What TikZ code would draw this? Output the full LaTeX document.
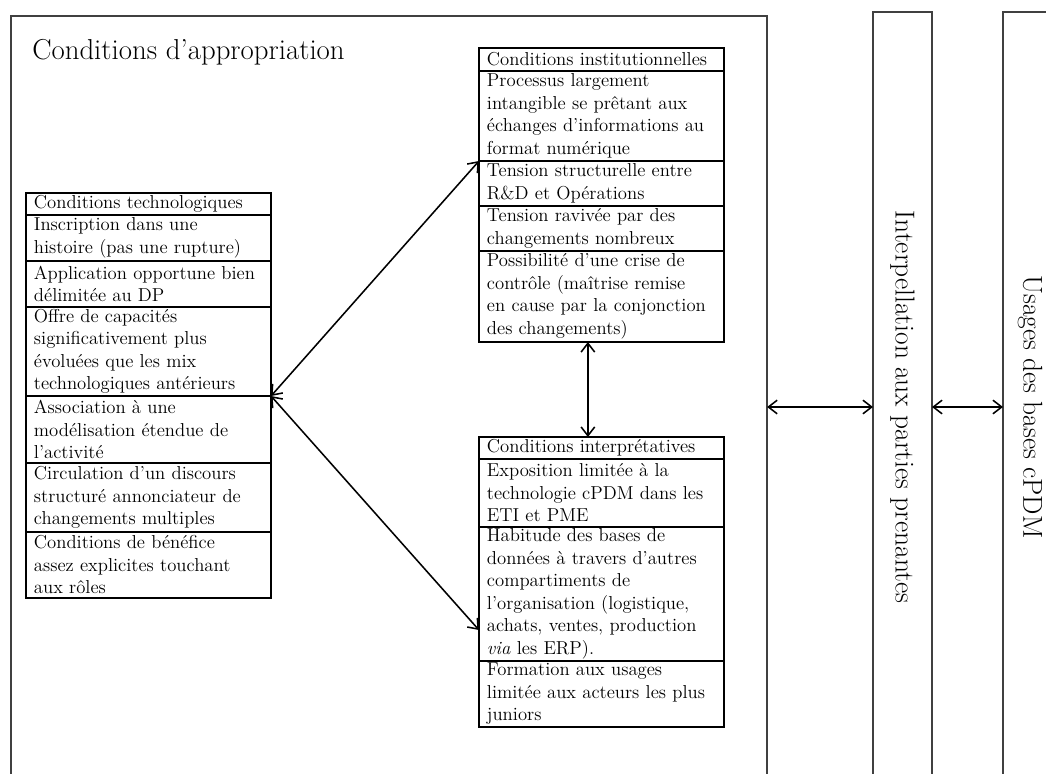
\documentclass[tikz,border=0pt]{standalone}
\usepackage{fontspec}
\usetikzlibrary{arrows.meta}

\begin{document}
\begin{tikzpicture}[x=0.025cm, y=-0.025cm,
	cell/.style={draw, line width=0.8pt, text width=5.725cm, inner xsep=0.2cm, inner ysep=0pt, outer sep=0pt, align=left, font=\fontsize{13.3}{16}\selectfont},
	frame/.style={draw=black!75, line width=0.9pt, outer sep=0pt},
	tall/.style={frame, rotate=-90, minimum width=19.75cm, font=\fontsize{19.5}{23}\selectfont},
	link/.style={<->, line width=1.1pt},
	>={Straight Barb[length=2.2mm,width=3.4mm]}]
				\useasboundingbox (0,0) rectangle (1046,774);
				\node[frame, minimum width=18.9cm, minimum height=19.55cm] (appr) at (389,407) {};
				\node[tall, minimum height=1.475cm] (interp) at (902.5,407) {Interpellation aux parties prenantes};
				\node[tall, minimum height=1.35cm] (usage) at (1030,407) {Usages des bases cPDM};
				\node[anchor=base west, inner sep=0pt, font=\fontsize{20.5}{24}\selectfont] (title) at (32,60) {Conditions d’appropriation};

				\node[cell, minimum height=0.55cm] (t0) at (148.5,204) {Conditions technologiques};
				\node[cell, minimum height=1.15cm] (t1) at (148.5,238) {Inscription dans une\\histoire (pas une rupture)};
				\node[cell, minimum height=1.15cm] (t2) at (148.5,284) {Application opportune bien\\délimitée au DP};
				\node[cell, minimum height=2.225cm] (t3) at (148.5,351.5) {Offre de capacités\\significativement plus\\évoluées que les mix\\technologiques antérieurs};
				\node[cell, minimum height=1.675cm] (t4) at (148.5,429.5) {Association à une\\modélisation étendue de\\l’activité};
				\node[cell, minimum height=1.725cm] (t5) at (148.5,497.5) {Circulation d’un discours\\structuré annonciateur de\\changements multiples};
				\node[cell, minimum height=1.65cm] (t6) at (148.5,565) {Conditions de bénéfice\\assez explicites touchant\\aux rôles};

				\node[cell, minimum height=0.575cm] (i0) at (601.5,59.5) {Conditions institutionnelles};
				\node[cell, minimum height=2.25cm] (i1) at (601.5,116) {Processus largement\\intangible se prêtant aux\\échanges d’informations au\\format numérique};
				\node[cell, minimum height=1.125cm] (i2) at (601.5,183.5) {Tension structurelle entre\\R\&D et Opérations};
				\node[cell, minimum height=1.125cm] (i3) at (601.5,228.5) {Tension ravivée par des\\changements nombreux};
				\node[cell, minimum height=2.275cm] (i4) at (601.5,296.5) {Possibilité d’une crise de\\contrôle (maîtrise remise\\en cause par la conjonction\\des changements)};

				\node[cell, minimum height=0.55cm] (p0) at (601.5,448) {Conditions interprétatives};
				\node[cell, minimum height=1.7cm] (p1) at (601.5,493) {Exposition limitée à la\\technologie cPDM dans les\\ETI et PME};
				\node[cell, minimum height=3.35cm] (p2) at (601.5,594) {Habitude des bases de\\données à travers d’autres\\compartiments de\\l’organisation (logistique,\\achats, ventes, production\\\textit{via} les ERP).};
				\node[cell, minimum height=1.65cm] (p3) at (601.5,694) {Formation aux usages\\limitée aux acteurs les plus\\juniors};

				\draw[link] (t3.south east) to (i1.south west);
				\draw[link] (t3.south east) to ([yshift=-0.9cm]p2.west);
				\draw[link] ([xshift=-0.34cm]i4.south) to ([xshift=-0.34cm]p0.north);
				\draw[link] (appr.east) to (appr.east -| interp.south);
				\draw[link] (appr.east -| interp.north) to (appr.east -| usage.south);

			\end{tikzpicture}
\end{document}
